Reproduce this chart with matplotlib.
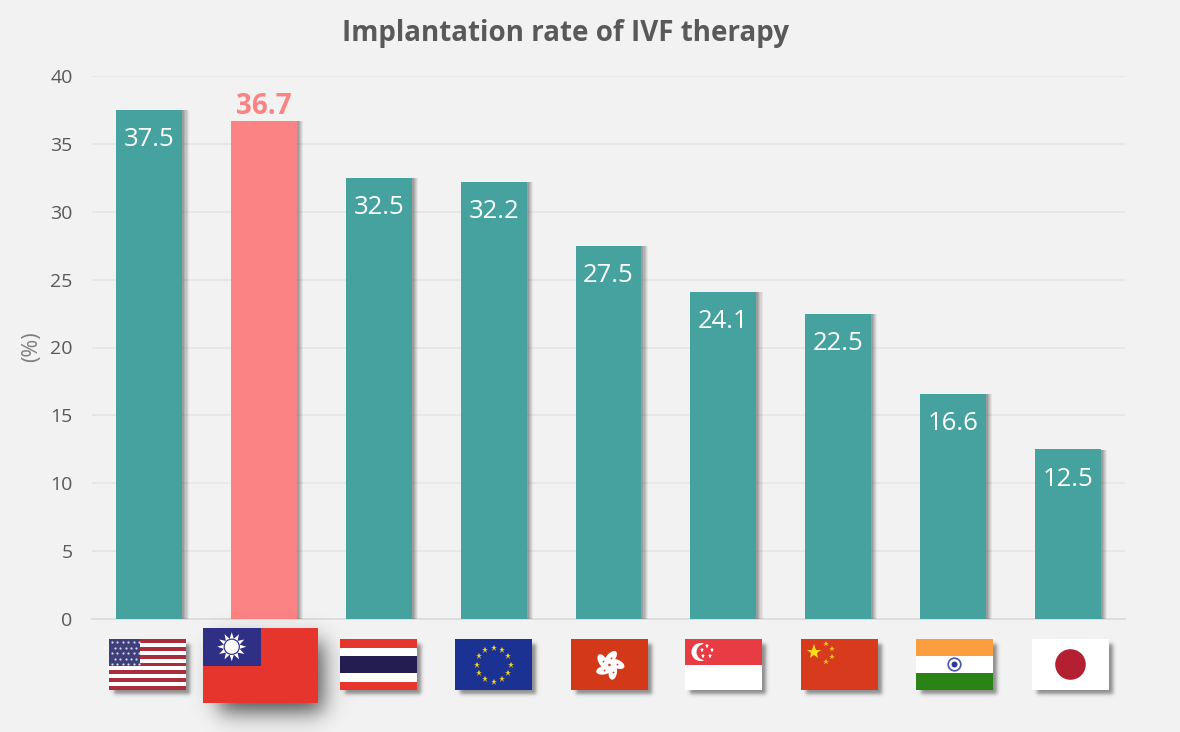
import numpy as np
import matplotlib
matplotlib.use("Agg")
import matplotlib.pyplot as plt
import matplotlib.patheffects as pe
from matplotlib.patches import Circle, Ellipse, Polygon, Rectangle

countries = ["USA", "Taiwan", "Thailand", "EU", "Hong Kong", "Singapore", "China", "India", "Japan"]
rates = [37.5, 36.7, 32.5, 32.2, 27.5, 24.1, 22.5, 16.6, 12.5]
y_ticks = [0, 5, 10, 15, 20, 25, 30, 35, 40]
highlight = "Taiwan"

W, H = 1180, 732
BG = "#f2f2f2"
TEAL = "#45a29f"
PINK = "#fb8383"

plt.rcParams["font.family"] = ["Open Sans", "DejaVu Sans"]


def px_axes(fig, x0, y0, x1, y1, zorder=5):
    # axes addressed in pixels from its own top-left corner
    a = fig.add_axes([x0 / W, 1 - y1 / H, (x1 - x0) / W, (y1 - y0) / H], zorder=zorder)
    a.set_xlim(0, x1 - x0)
    a.set_ylim(y1 - y0, 0)
    a.axis("off")
    return a


def soft_box(xx, yy, x0, y0, x1, y1, blur, alpha):
    # smooth-edged box used as a shadow alpha mask
    fx = 0.5 * (np.tanh((xx - x0) / blur) - np.tanh((xx - x1) / blur))
    fy = 0.5 * (np.tanh((yy - y0) / blur) - np.tanh((yy - y1) / blur))
    return alpha * np.outer(fy, fx)


def stripes(a, w, h, bands):
    y = 0
    for frac, col in bands:
        a.add_patch(Rectangle((0, y), w, frac * h, fc=col, ec="none"))
        y += frac * h


def flag_usa(a, w, h):
    for i in range(13):
        col = "#a92d3a" if i % 2 == 0 else "white"
        a.add_patch(Rectangle((0, i * h / 13), w, h / 13, fc=col, ec="none"))
    a.add_patch(Rectangle((0, 0), w * 0.4, h * 7 / 13, fc="#3f3f7b", ec="none"))
    for row in range(5):
        for col in range(6 - row % 2):
            a.plot(3 + col * 5.4 + (row % 2) * 2.7, 3 + row * 5.5, "o", ms=1.6, color="#d8d8e8", mew=0)


def flag_taiwan(a, w, h):
    a.add_patch(Rectangle((0, 0), w, h, fc="#e5352c", ec="none"))
    a.add_patch(Rectangle((0, 0), w / 2, h / 2, fc="#2e2f85", ec="none"))
    cx, cy = w / 4, h / 4
    for ang in np.arange(0, 360, 30):
        t = np.radians(ang)
        n = np.array([-np.sin(t), np.cos(t)]) * 2.4
        d = np.array([np.cos(t), np.sin(t)])
        c = np.array([cx, cy])
        a.add_patch(Polygon([c + d * 7 + n, c + d * 7 - n, c + d * 14.5], fc="white", ec="none"))
    a.add_patch(Circle((cx, cy), 8.2, fc="#2e2f85", ec="none"))
    a.add_patch(Circle((cx, cy), 7.0, fc="white", ec="none"))


def flag_thailand(a, w, h):
    stripes(a, w, h, [(1 / 6, "#e5352c"), (1 / 6, "white"), (2 / 6, "#241d52"),
                      (1 / 6, "white"), (1 / 6, "#e5352c")])


def flag_eu(a, w, h):
    a.add_patch(Rectangle((0, 0), w, h, fc="#1b3293", ec="none"))
    for ang in np.arange(0, 360, 30):
        t = np.radians(ang)
        a.plot(w / 2 + 17 * np.cos(t), h / 2 + 17 * np.sin(t), "*", ms=5, color="#f4d01e", mew=0)


def flag_hk(a, w, h):
    a.add_patch(Rectangle((0, 0), w, h, fc="#d33818", ec="none"))
    cx, cy = w / 2, h / 2 + 0.5
    for ang in np.arange(-80, 280, 72):
        t = np.radians(ang)
        ex, ey = cx + 7.5 * np.cos(t), cy + 7.5 * np.sin(t)
        a.add_patch(Ellipse((ex, ey), 16, 8.5, angle=ang + 32, fc="white", ec="none"))
        a.plot(ex, ey, "o", ms=1.3, color="#d33818", mew=0)


def flag_singapore(a, w, h):
    stripes(a, w, h, [(0.5, "#e83c45"), (0.5, "white")])
    a.add_patch(Circle((15.5, 13), 9, fc="white", ec="none"))
    a.add_patch(Circle((19.5, 13), 8, fc="#e83c45", ec="none"))
    for sx, sy in [(22, 7), (27, 11), (24.5, 17), (18, 17), (16.5, 11)]:
        a.plot(sx, sy, "*", ms=3.6, color="white", mew=0)


def flag_china(a, w, h):
    a.add_patch(Rectangle((0, 0), w, h, fc="#d83a1e", ec="none"))
    a.plot(12.5, 12.5, "*", ms=11, color="#fddc1c", mew=0)
    for sx, sy in [(25, 5), (30.5, 10), (30.5, 18), (25, 23)]:
        a.plot(sx, sy, "*", ms=4, color="#fdc81c", mew=0)


def flag_india(a, w, h):
    stripes(a, w, h, [(1 / 3, "#fb9e3f"), (1 / 3, "white"), (1 / 3, "#2a8415")])
    a.add_patch(Circle((w / 2, h / 2), 6.3, fc="white", ec="#4a55a8", lw=1.2))
    a.add_patch(Circle((w / 2, h / 2), 3.0, fc="#2b3a9c", ec="none"))


def flag_japan(a, w, h):
    a.add_patch(Rectangle((0, 0), w, h, fc="white", ec="none"))
    a.add_patch(Circle((w / 2, h / 2), 15.3, fc="#b41f31", ec="none"))


flag_painters = [flag_usa, flag_taiwan, flag_thailand, flag_eu, flag_hk,
                 flag_singapore, flag_china, flag_india, flag_japan]
flag_lefts = [109, 203, 340, 455, 571, 685, 801, 916, 1032]

fig = plt.figure(figsize=(W / 100, H / 100), dpi=100, facecolor=BG)
ax = fig.add_axes([92 / W, 1 - 619 / H, 1033 / W, 543 / H], facecolor="none")

x = np.arange(len(countries))
colors = [PINK if c == highlight else TEAL for c in countries]
bar_shadow = [pe.SimplePatchShadow(offset=(off, -0.2), shadow_rgbFace="black", alpha=a)
              for off, a in [(4.5, 0.05), (3.8, 0.07), (3, 0.08), (2.2, 0.09), (1.4, 0.11)]]
ax.bar(x, rates, width=0.575, color=colors, zorder=3, path_effects=bar_shadow + [pe.Normal()])

ax.set_xlim(-0.5, len(countries) - 0.5)
ax.set_ylim(0, 40)
ax.set_yticks(y_ticks)
ax.set_xticks([])
ax.grid(axis="y", color="#e6e6e6", lw=1.3, zorder=0)
ax.set_axisbelow(True)
for side in ["top", "right", "left"]:
    ax.spines[side].set_visible(False)
ax.spines["bottom"].set_color("#dcdcdc")
ax.spines["bottom"].set_linewidth(1.3)
ax.tick_params(axis="y", length=0, labelsize=14, labelcolor="#595959", pad=14)

for i, (c, v) in enumerate(zip(countries, rates)):
    if c == highlight:
        ax.annotate(f"{v}", (i, v), xytext=(0, 0), textcoords="offset points", ha="center", va="bottom",
                    fontsize=20, fontweight="bold", color=PINK, zorder=4)
    else:
        ax.annotate(f"{v}", (i, v), xytext=(0, -21.5), textcoords="offset points", ha="center", va="center",
                    fontsize=18.5, color="white", zorder=4)

fig.text(566 / W, 1 - 34 / H, "Implantation rate of IVF therapy", ha="center", va="center",
         fontsize=20, fontweight="bold", color="#595959")
fig.text(32 / W, 1 - 347 / H, "(%)", ha="center", va="center", rotation=90, fontsize=15.5, color="#7f7f7f")

# soft drop shadows collected into one mask, painted on a layer behind the flags
xx = np.arange(W) + 0.5
yy = np.arange(H) + 0.5
mask = np.zeros((H, W))
boxes = []
for c, left in zip(countries, flag_lefts):
    if c == highlight:
        w, h, top = 115, 75, 628
        mask += soft_box(xx, yy, left + 16, top + 14, left + w + 5, top + h + 9, 13, 0.68)
    else:
        w, h, top = 77, 51, 639
        mask += soft_box(xx, yy, left + 5, top + 5, left + w + 4, top + h + 4, 2.2, 0.42)
    boxes.append((left, top, w, h))

shadow_rgba = np.zeros((H, W, 4))
shadow_rgba[..., 3] = np.clip(mask, 0, 1)
shadow_layer = px_axes(fig, 0, 0, W, H, zorder=4)
shadow_layer.imshow(shadow_rgba, extent=(0, W, H, 0), aspect="auto", interpolation="nearest")
shadow_layer.set_xlim(0, W)
shadow_layer.set_ylim(H, 0)

for paint, (left, top, w, h) in zip(flag_painters, boxes):
    paint(px_axes(fig, left, top, left + w, top + h, zorder=6), w, h)

fig.savefig("out.png", dpi=100, facecolor=BG)
plt.close(fig)
